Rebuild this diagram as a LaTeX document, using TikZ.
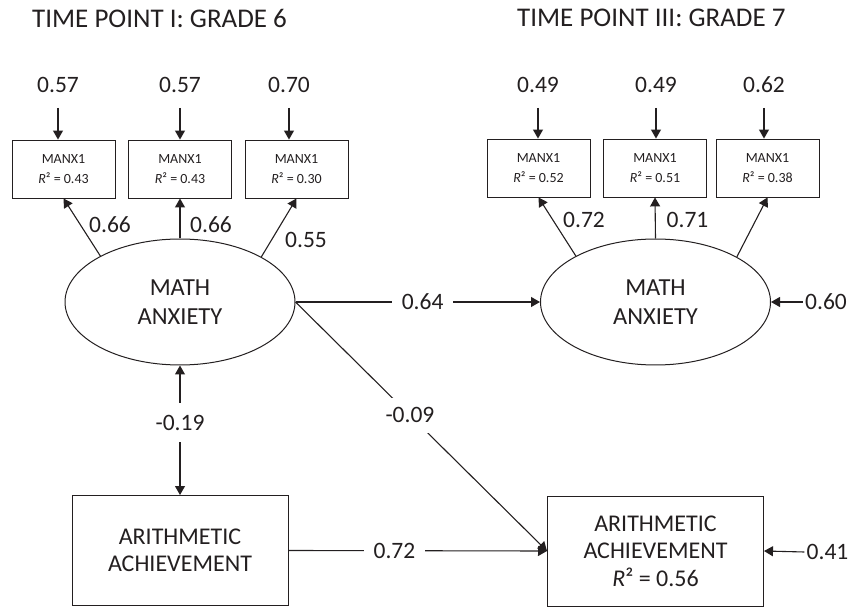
\documentclass[tikz,border=0pt]{standalone}
\usepackage{fontspec}
\setmainfont{Carlito}
\usetikzlibrary{arrows.meta,shapes.geometric}
\definecolor{ink}{RGB}{35,31,32}
\begin{document}
\begin{tikzpicture}[x=1pt,y=-1pt,
  every node/.style={text=ink},
  title/.style={anchor=west,inner sep=0pt,font=\fontsize{27}{30}\selectfont},
  val/.style={inner sep=2pt,font=\fontsize{23.5}{26}\selectfont},
  lab/.style={val,fill=white,inner xsep=10pt,inner ysep=9pt},
  mbox/.style={draw=ink,line width=0.9pt,minimum width=103pt,minimum height=58pt,inner sep=0pt,align=center,font=\fontsize{14}{20}\selectfont},
  ell/.style={draw=ink,line width=1pt,ellipse,minimum width=230pt,minimum height=126pt,inner sep=0pt,align=center,font=\fontsize{24.5}{29}\selectfont},
  abox/.style={draw=ink,line width=1pt,minimum width=216pt,minimum height=110pt,inner sep=0pt,align=center,font=\fontsize{24}{27.5}\selectfont},
  arr/.style={draw=ink,line width=1.1pt,-{Triangle[length=9pt,width=10pt]}},
  darr/.style={draw=ink,line width=1.1pt,{Triangle[length=9pt,width=10pt]}-{Triangle[length=9pt,width=10pt]}}
]
\useasboundingbox (0,0) rectangle (862,609);

% titles
\node[title] (t1) at (32,18) {TIME POINT I: GRADE 6};
\node[title] (t2) at (517,18) {TIME POINT III: GRADE 7};

% left indicator boxes
\node[mbox] (lb1) at (63.5,169) {MANX1\\\textit{R}² = 0.43};
\node[mbox] (lb2) at (180,169) {MANX1\\\textit{R}² = 0.43};
\node[mbox] (lb3) at (296.5,169) {MANX1\\\textit{R}² = 0.30};
% right indicator boxes
\node[mbox] (rb1) at (538.5,168) {MANX1\\\textit{R}² = 0.52};
\node[mbox] (rb2) at (655,168) {MANX1\\\textit{R}² = 0.51};
\node[mbox] (rb3) at (767.5,168) {MANX1\\\textit{R}² = 0.38};

% error terms of indicators
\node[val] (le1) at (58,85) {0.57};
\node[val] (le2) at (180,85) {0.57};
\node[val] (le3) at (289,85) {0.70};
\node[val] (re1) at (538,85) {0.49};
\node[val] (re2) at (656,85) {0.49};
\node[val] (re3) at (764,85) {0.62};
\foreach \e/\b in {le1/lb1,le2/lb2,le3/lb3,re1/rb1,re2/rb2,re3/rb3}{
  \draw[arr] ([yshift=-23pt]\e.center) -- (\e |- \b.north);
}

% latent ellipses
\node[ell] (laE) at (180,302) {MATH\\ANXIETY};
\node[ell] (rAE) at (655.5,302) {MATH\\ANXIETY};

% loadings
\draw[arr] (laE.150.5) -- (lb1.south);
\draw[arr] (laE.north) -- (lb2.south);
\draw[arr] (laE.29.5) -- (lb3.south);
\draw[arr] (rAE.150.3) -- (rb1.south);
\draw[arr] (rAE.north) -- (rb2.south);
\draw[arr] (rAE.29.7) -- (rb3.south);
\node[val] (ll1) at (110,225) {0.66};
\node[val] (ll2) at (211,225) {0.66};
\node[val] (ll3) at (306,240) {0.55};
\node[val] (rl1) at (584,220) {0.72};
\node[val] (rl2) at (687.5,220) {0.71};

% arithmetic achievement boxes
\node[abox] (laA) at (180,550.5) {ARITHMETIC\\ACHIEVEMENT};
\node[abox] (rAA) at (655.5,551) {ARITHMETIC\\ACHIEVEMENT\\\textit{R}² = 0.56};

% structural paths
\draw[arr] (laE.east) -- node[lab,pos=0.52] (p64) {0.64} (rAE.west);
\draw[darr] (laE.south) -- node[lab,pos=0.44,inner xsep=4pt,inner ysep=12pt] (p19) {-0.19} (laA.north);
\draw[arr] (laE.east) -- node[lab,pos=0.455,inner xsep=3pt,inner ysep=10pt] (p09) {-0.09} (rAA.west);
\draw[arr] (laA.east) -- node[lab,pos=0.41] (p72) {0.72} (rAA.west);

% disturbances
\node[val] (d60) at (826,302) {0.60};
\node[val] (d41) at (827.5,552) {0.41};
\draw[arr] (d60.west) -- (rAE.east);
\draw[arr] (d41.west) -- (rAA.east);
\end{tikzpicture}
\end{document}
